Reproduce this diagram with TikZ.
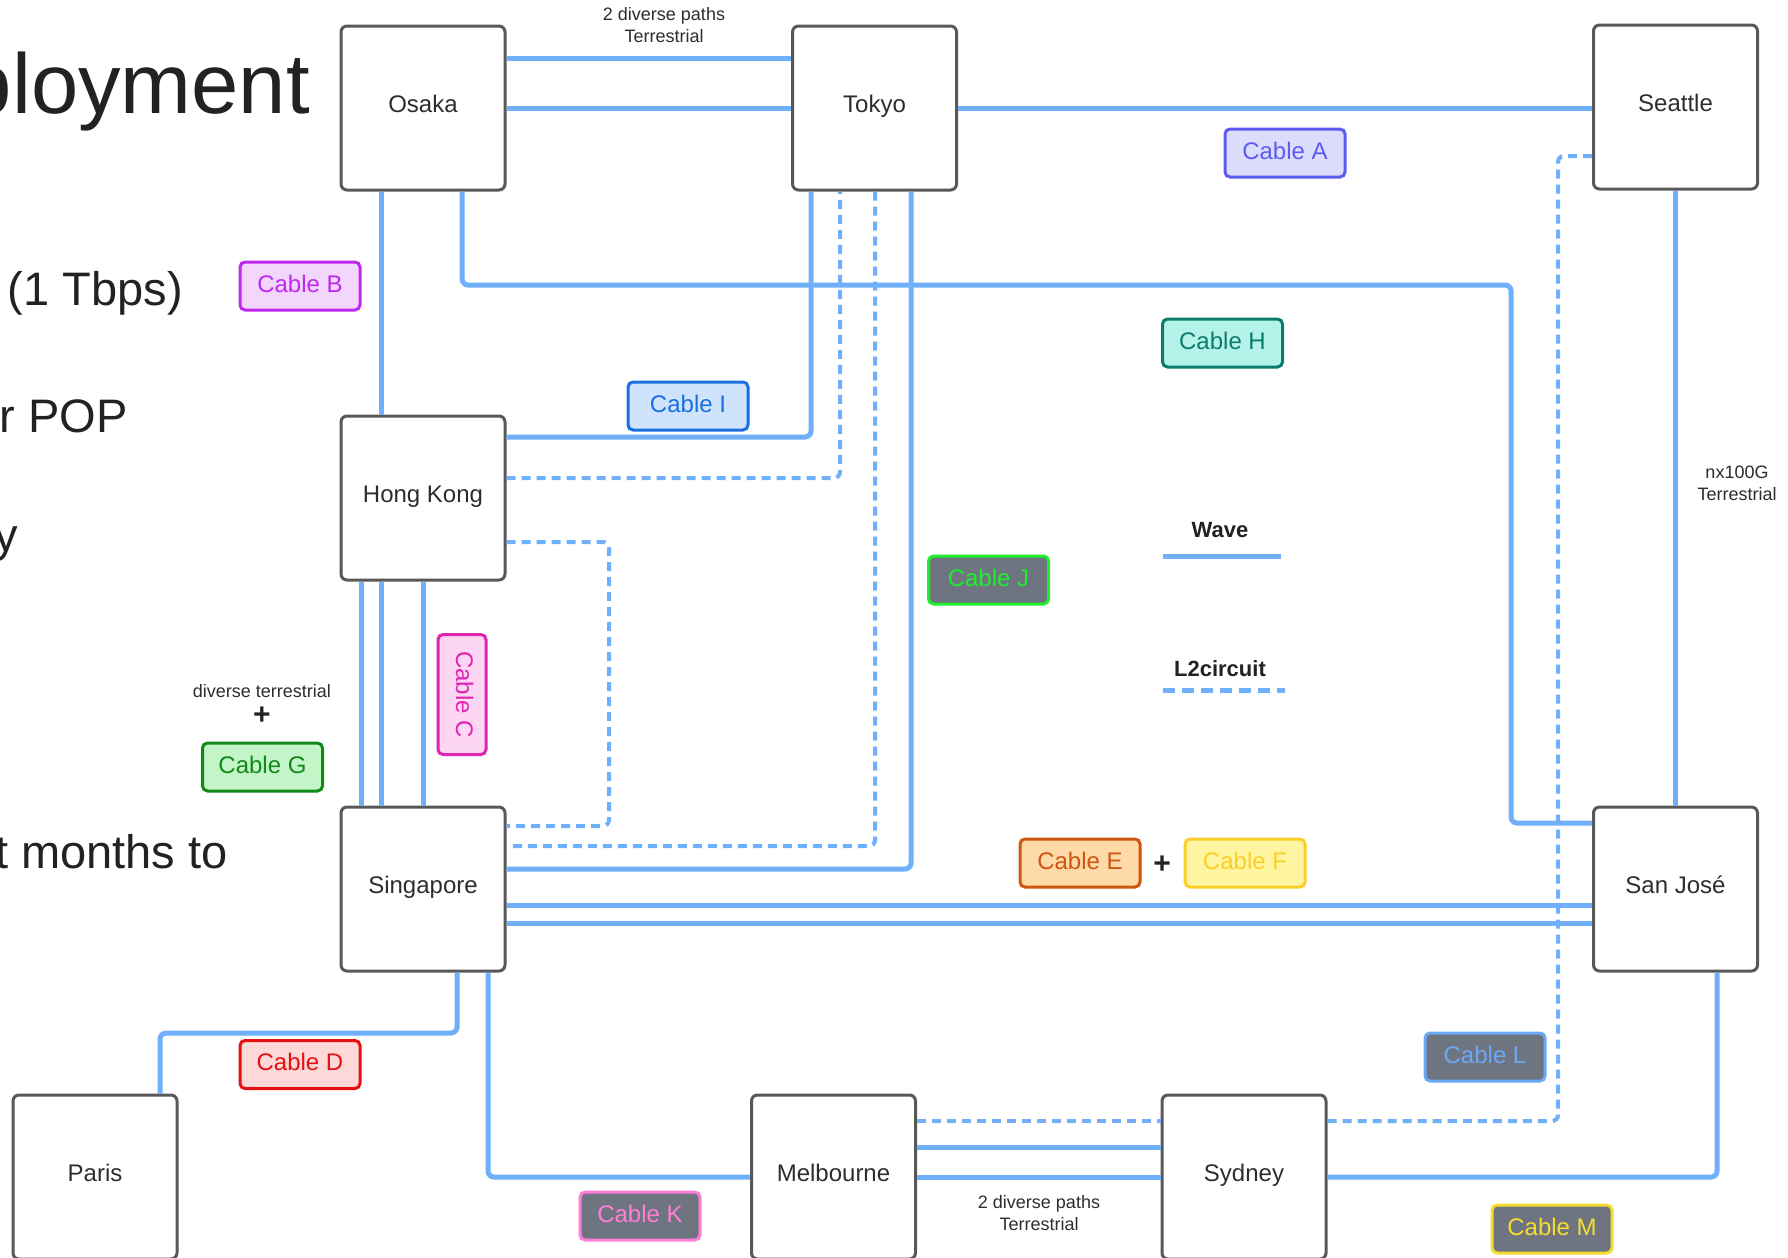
\documentclass[tikz,border=0pt]{standalone}
\usepackage{fontspec}
\setmainfont{Liberation Sans}
\usetikzlibrary{calc}
\definecolor{wire}{RGB}{112,176,250}
\definecolor{boxgray}{RGB}{88,88,88}
\definecolor{nodetext}{RGB}{45,45,48}
\definecolor{bigtext}{RGB}{34,34,34}
\definecolor{darkfill}{RGB}{110,117,128}
\definecolor{afill}{RGB}{220,220,252}\definecolor{aline}{RGB}{92,92,240}
\definecolor{bfill}{RGB}{243,214,252}\definecolor{bline}{RGB}{192,40,240}
\definecolor{cfill}{RGB}{253,214,243}\definecolor{cline}{RGB}{224,36,180}
\definecolor{dfill}{RGB}{253,216,216}\definecolor{dline}{RGB}{230,16,16}
\definecolor{efill}{RGB}{254,218,168}\definecolor{eline}{RGB}{206,86,16}
\definecolor{ffill}{RGB}{255,245,160}\definecolor{fline}{RGB}{250,206,40}
\definecolor{gfill}{RGB}{195,245,200}\definecolor{gline}{RGB}{16,138,24}
\definecolor{hfill}{RGB}{180,243,234}\definecolor{hline}{RGB}{12,124,108}
\definecolor{ifill}{RGB}{207,227,253}\definecolor{iline}{RGB}{26,111,224}
\definecolor{jline}{RGB}{30,238,44}
\definecolor{kline}{RGB}{255,126,216}
\definecolor{lline}{RGB}{106,168,245}
\definecolor{mline}{RGB}{245,221,48}
\begin{document}
\begin{tikzpicture}[x=1pt,y=-1pt,
  site/.style={draw=boxgray, line width=3pt, fill=white, rounded corners=6pt,
    minimum width=164pt, minimum height=164pt, inner sep=0pt,
    text height=17pt, text depth=9pt,
    text=nodetext, font=\fontsize{24}{28}\selectfont},
  wave/.style={draw=wire, line width=5pt, rounded corners=6pt},
  l2c/.style={draw=wire, line width=4pt, dash pattern=on 9pt off 6pt, rounded corners=6pt},
  cablebox/.style={rounded corners=5pt, line width=3pt, minimum width=120pt,
    minimum height=48pt, inner sep=0pt, text height=17pt, text depth=5pt,
    font=\fontsize{24}{28}\selectfont},
  note/.style={align=center, text=nodetext, font=\fontsize{18}{22}\selectfont, inner sep=0pt},
  big/.style={anchor=base east, text=bigtext, inner sep=0pt, font=\fontsize{47}{56}\selectfont},
  plus/.style={text=bigtext, inner sep=0pt, font=\fontsize{30}{34}\selectfont\bfseries},
  legend/.style={text=bigtext, inner sep=0pt, font=\fontsize{22}{26}\selectfont\bfseries}
]
\useasboundingbox (0,0) rectangle (1788,1258);
\fill[white] (0,0) rectangle (1788,1258);

% presentation text behind
\node[big, font=\fontsize{85}{100}\selectfont] (t1) at (310,113) {ployment};
\node[big] (t2) at (183,305) {(1 Tbps)};
\node[big] (t3) at (128,432) {r POP};
\node[big] (t4) at (18,551) {y};
\node[big] (t5) at (228,868) {t months to};

% sites
\node[site] (osaka) at (423,108) {Osaka};
\node[site] (tokyo) at (874.5,108) {Tokyo};
\node[site] (seattle) at (1675.5,107) {Seattle};
\node[site] (hk) at (423,498) {Hong Kong};
\node[site] (sg) at (423,889) {Singapore};
\node[site] (sj) at (1675.5,889) {San José};
\node[site] (paris) at (95,1177) {Paris};
\node[site] (melb) at (833.5,1177) {Melbourne};
\node[site] (syd) at (1244,1177) {Sydney};

% Osaka - Tokyo
\draw[wave] ($(osaka.east)+(0,-50)$) -- ($(tokyo.west)+(0,-50)$);
\draw[wave] (osaka.east) -- (tokyo.west);
% Tokyo - Seattle
\draw[wave] (tokyo.east) -- (tokyo.east -| seattle.west);
% Osaka - Hong Kong
\draw[wave] ($(osaka.south)+(-42,0)$) -- ($(hk.north)+(-42,0)$);
% Osaka - San Jose
\coordinate (osj) at (1511,285);
\draw[wave] ($(osaka.south)+(39,0)$) |- (osj) |- ($(sj.west)+(0,-66)$);
% Hong Kong - Tokyo
\draw[wave] ($(hk.east)+(0,-61)$) -| ($(tokyo.south)+(-63.5,0)$);
\draw[l2c] ($(hk.east)+(0,-20)$) -| ($(tokyo.south)+(-34.5,0)$);
% Hong Kong - Singapore dashed loop
\coordinate (hksg) at (609,826);
\draw[l2c] ($(hk.east)+(0,44)$) -| (hksg) -- ($(sg.east)+(0,-63)$);
% Tokyo - Singapore
\draw[l2c] ($(tokyo.south)+(0.5,0)$) |- ($(sg.east)+(0,-43)$);
\draw[wave] ($(tokyo.south)+(36.5,0)$) |- ($(sg.east)+(0,-20)$);
% Hong Kong - Singapore
\draw[wave] ($(hk.south)+(-61.5,0)$) -- ($(sg.north)+(-61.5,0)$);
\draw[wave] ($(hk.south)+(-42,0)$) -- ($(sg.north)+(-42,0)$);
\draw[wave] (hk.south) -- (sg.north);
% Singapore - San Jose
\draw[wave] ($(sg.east)+(0,16.5)$) -- ($(sj.west)+(0,16.5)$);
\draw[wave] ($(sg.east)+(0,34.5)$) -- ($(sj.west)+(0,34.5)$);
% Seattle - San Jose
\draw[wave] (seattle.south) -- (sj.north);
% Seattle - Sydney dashed
\coordinate (sesy) at (1558,1121);
\draw[l2c] ($(seattle.west)+(0,49)$) -| (sesy) -- ($(syd.east)+(0,-56)$);
% Singapore - Paris
\coordinate (sgpa) at (160,1033);
\draw[wave] ($(sg.south)+(34,0)$) |- (sgpa) -- ($(paris.north)+(65,0)$);
% Singapore - Melbourne
\draw[wave] ($(sg.south)+(65,0)$) |- (melb.west);
% Melbourne - Sydney
\draw[l2c] ($(melb.east)+(0,-56)$) -- ($(syd.west)+(0,-56)$);
\draw[wave] ($(melb.east)+(0,-30)$) -- ($(syd.west)+(0,-30)$);
\draw[wave] (melb.east) -- (syd.west);
% Sydney - San Jose
\draw[wave] (syd.east) -| ($(sj.south)+(41.5,0)$);

% annotations
\node[note] (n1) at (664,25) {2 diverse paths\\Terrestrial};
\node[note] (n2) at (1737,483) {nx100G\\Terrestrial};
\node[note] (n3) at (1039,1213) {2 diverse paths\\Terrestrial};
\node[note] (n4) at (262,691) {diverse terrestrial};
\node[plus] (p1) at (262,716) {+};
\node[plus] (p2) at (1162,865) {+};

% legend
\node[legend] (lw) at (1220,530) {Wave};
\coordinate (lw1) at (1163,556);
\coordinate (lw2) at (1281,556);
\draw[draw=wire, line width=5pt] (lw1) -- (lw2);
\node[legend] (ll) at (1220,669) {L2circuit};
\coordinate (ll1) at (1163,690);
\coordinate (ll2) at (1285,690);
\draw[draw=wire, line width=5pt, dash pattern=on 12pt off 7pt] (ll1) -- (ll2);

% cable labels
\node[cablebox, fill=afill, draw=aline, text=aline] (ca) at (1285,153) {Cable A};
\node[cablebox, fill=bfill, draw=bline, text=bline] (cb) at (300,286) {Cable B};
\node[cablebox, fill=cfill, draw=cline, text=cline, rotate=-90] (cc) at (462,694.5) {Cable C};
\node[cablebox, fill=dfill, draw=dline, text=dline] (cd) at (300,1064.5) {Cable D};
\node[cablebox, fill=efill, draw=eline, text=eline] (ce) at (1080,863) {Cable E};
\node[cablebox, fill=ffill, draw=fline, text=fline] (cf) at (1245,863) {Cable F};
\node[cablebox, fill=gfill, draw=gline, text=gline] (cg) at (262.5,767) {Cable G};
\node[cablebox, fill=hfill, draw=hline, text=hline] (ch) at (1222.5,343) {Cable H};
\node[cablebox, fill=ifill, draw=iline, text=iline] (ci) at (688,406) {Cable I};
\node[cablebox, fill=darkfill, draw=jline, text=jline] (cj) at (988.5,580) {Cable J};
\node[cablebox, fill=darkfill, draw=kline, text=kline] (ck) at (640,1216) {Cable K};
\node[cablebox, fill=darkfill, draw=lline, text=lline] (cl) at (1485,1057) {Cable L};
\node[cablebox, fill=darkfill, draw=mline, text=mline] (cm) at (1552,1229) {Cable M};
\end{tikzpicture}
\end{document}
